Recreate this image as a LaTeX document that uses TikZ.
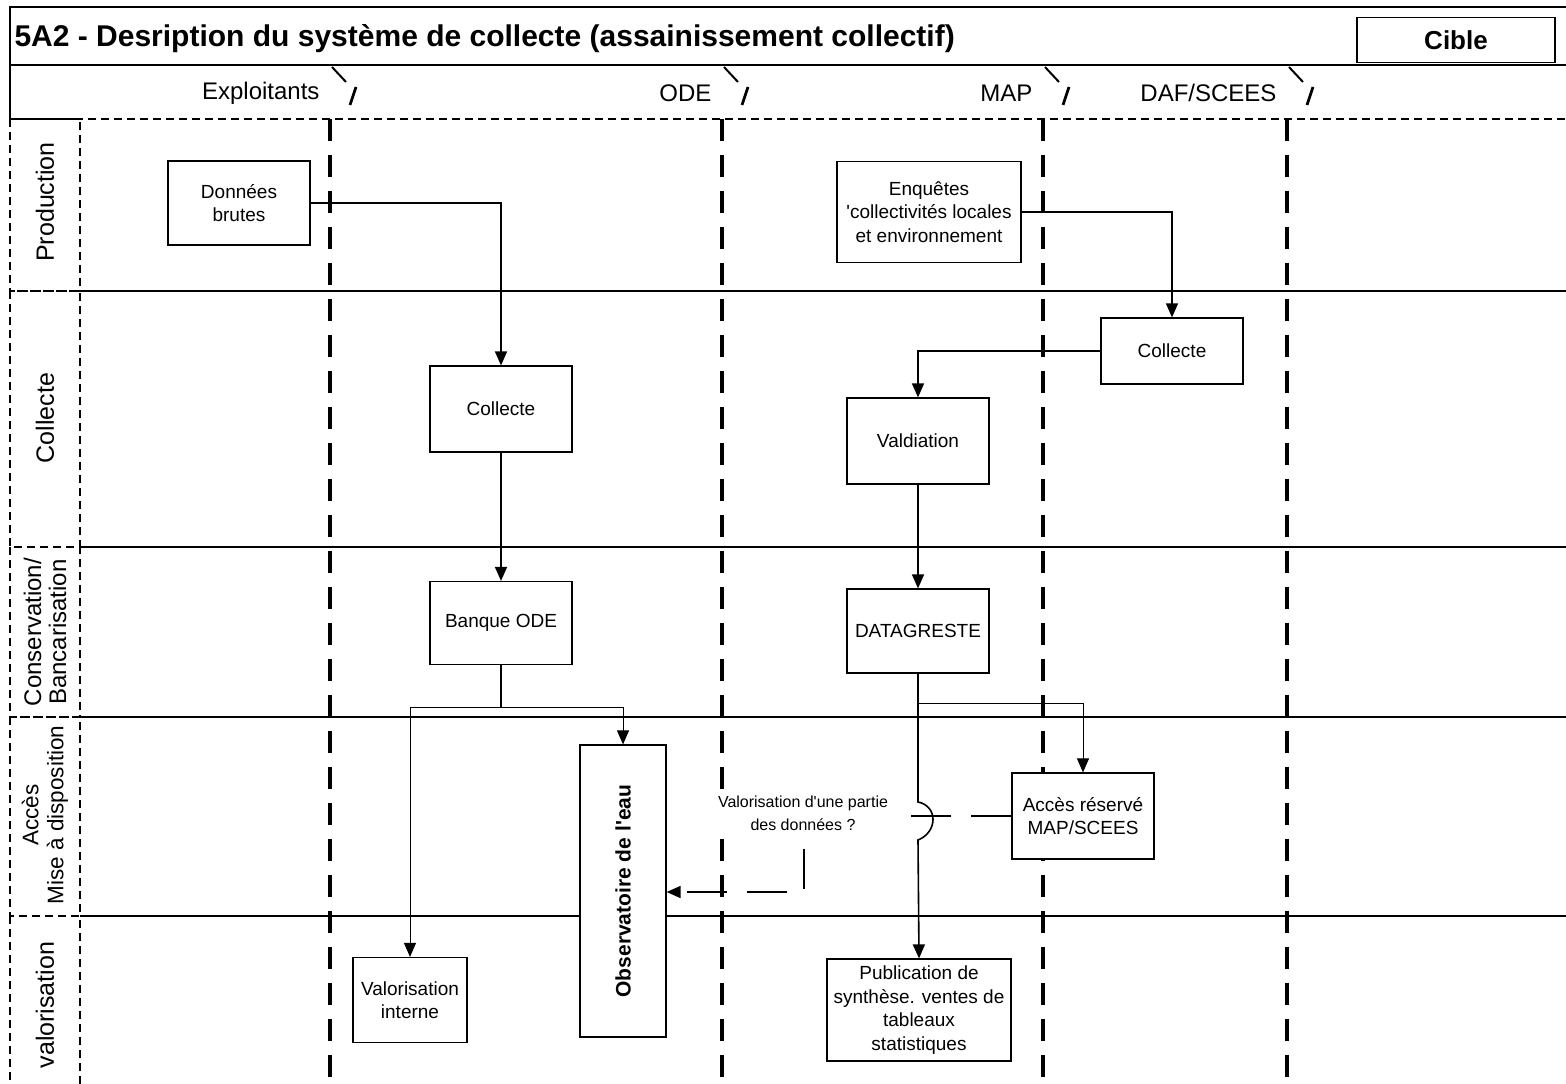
\documentclass[tikz,border=0pt]{standalone}
\usepackage{fontspec}
\setmainfont{Liberation Sans}
\usepackage{tikz}
\usetikzlibrary{arrows.meta, positioning, calc}

\begin{document}
\begin{tikzpicture}[x=1pt, y=-1pt,
  box/.style={draw, line width=1.2pt, fill=white, inner sep=0pt, align=center,
    font=\fontsize{19}{23.5}\selectfont},
  flow/.style={line width=1.6pt, -{Triangle[length=14pt, width=12pt]}},
  thinflow/.style={line width=0.9pt, -{Triangle[length=14pt, width=12pt]}},
  dashflow/.style={line width=1.6pt, dash pattern=on 40pt off 20pt,
    -{Triangle[length=14pt, width=12pt]}},
  lane/.style={line width=3.5pt, dash pattern=on 22pt off 14pt},
  rowline/.style={line width=1.6pt},
  rowbox/.style={line width=1.2pt, dash pattern=on 8pt off 5pt},
  rowlabel/.style={rotate=90, align=center, font=\fontsize{25}{25}\selectfont},
  lanelabel/.style={font=\fontsize{24}{26}\selectfont}]

  \useasboundingbox (0,0) rectangle (1566,1084);

  % Title bar
  \draw[rowline] (1570,7) -- (10,7) -- (10,119);
  \draw[rowline] (10,65) -- (1570,65);
  \node[anchor=base west, font=\fontsize{30}{32}\selectfont\bfseries] (title) at (11,46)
    {5A2 - Desription du système de collecte (assainissement collectif)};
  \node[box, minimum width=198pt, minimum height=45pt,
    font=\fontsize{26}{30}\selectfont\bfseries] (cible) at (1456,40) {Cible};

  % Rows
  \draw[rowbox] (10,119) -- (1570,119);
  \foreach \y in {291,547,717,916}
    \draw[rowline] (80,\y) -- (1570,\y);
  \foreach \top/\bot in {119/291, 291/547, 547/717, 717/916, 916/1095}
    \draw[rowbox] (10,\top) rectangle (80,\bot);

  \node[rowlabel] (production) at (45,202) {Production};
  \node[rowlabel] (collecte) at (45,418) {Collecte};
  \node[rowlabel, font=\fontsize{24}{25}\selectfont] (conservation) at (45,632)
    {Conservation/\\Bancarisation};
  \node[rowlabel, font=\fontsize{22.5}{25}\selectfont] (acces) at (45,815)
    {Accès\\Mise à disposition};
  \node[rowlabel] (valorisation) at (45,1005) {valorisation};

  % Lanes
  \foreach \x/\lab [count=\i] in {330/Exploitants, 722/ODE, 1043/MAP, 1287/{DAF/SCEES}} {
    \draw[lane] (\x,119) -- (\x,1095);
    \draw[line width=2pt] (\x+2,67) -- (\x+16,82);
    \draw[line width=2.8pt] (\x+26,87) -- (\x+20,105);
    \node[lanelabel, anchor=east] (lane\i) at (\x-7,93) {\lab};
  }

  % Boxes
  \node[box, minimum width=142pt, minimum height=84pt] (donnees) at (239,203) {Données\\brutes};
  \node[box, minimum width=142pt, minimum height=86pt] (collecteODE) at (501,409) {Collecte};
  \node[box, minimum width=142pt, minimum height=83pt] (banque) at (501,623) {Banque ODE};
  \node[box, minimum width=86pt, minimum height=292pt] (observatoire) at (623,891) {};
  \node[rotate=90, font=\fontsize{21}{24}\selectfont\bfseries] (obslabel) at (observatoire)
    {Observatoire de l\textquotesingle eau};
  \node[box, minimum width=114pt, minimum height=85pt] (valint) at (410,1000) {Valorisation\\interne};

  \node[box, minimum width=184pt, minimum height=101pt] (enquetes) at (929,212)
    {Enquêtes\\\textquotesingle collectivités locales\\et environnement};
  \node[box, minimum width=142pt, minimum height=66pt] (collecteMAP) at (1172,351) {Collecte};
  \node[box, minimum width=142pt, minimum height=86pt] (validation) at (918,441) {Valdiation};
  \node[box, minimum width=142pt, minimum height=84pt] (datagreste) at (918,631) {DATAGRESTE};
  \node[box, minimum width=142pt, minimum height=86pt] (accesMAP) at (1083,816)
    {Accès réservé\\MAP/SCEES};
  \node[box, minimum width=184pt, minimum height=102pt] (publication) at (919,1010)
    {Publication de\\synthèse. ventes de\\tableaux\\statistiques};

  % ODE flows
  \draw[flow] (donnees.east) -| (collecteODE.north);
  \draw[flow] (collecteODE) -- (banque);
  \draw[line width=1.6pt] (banque.south) -- ++(0,42) coordinate (split1);
  \draw[thinflow] (split1) -| (valint.north);
  \draw[thinflow] (split1) -| (observatoire.north);

  % MAP flows
  \draw[flow] (enquetes.east) -| (collecteMAP.north);
  \draw[flow] (collecteMAP.west) -| (validation.north);
  \draw[flow] (validation) -- (datagreste);
  \draw[line width=1.6pt] (datagreste.south) -- ++(0,30) coordinate (split2);
  \draw[thinflow] (split2) -| (accesMAP.north);
  \coordinate (jump) at (split2 |- accesMAP.west);
  \draw[flow] (split2) -- ($(jump)+(0,-14)$)
    .. controls ($(jump)+(20,-10)$) and ($(jump)+(20,16)$) .. ($(jump)+(0,24)$)
    -- (publication.north);

  % Partial access
  \coordinate (bend) at (804,892);
  \draw[dashflow] (accesMAP.west) -| (bend) -- (bend -| observatoire.east);
  \node[fill=white, align=center, inner xsep=5pt, inner ysep=5pt,
    font=\fontsize{16}{23}\selectfont] (valnote) at (803,813)
    {Valorisation d\textquotesingle une partie\\des données ?};
\end{tikzpicture}
\end{document}
